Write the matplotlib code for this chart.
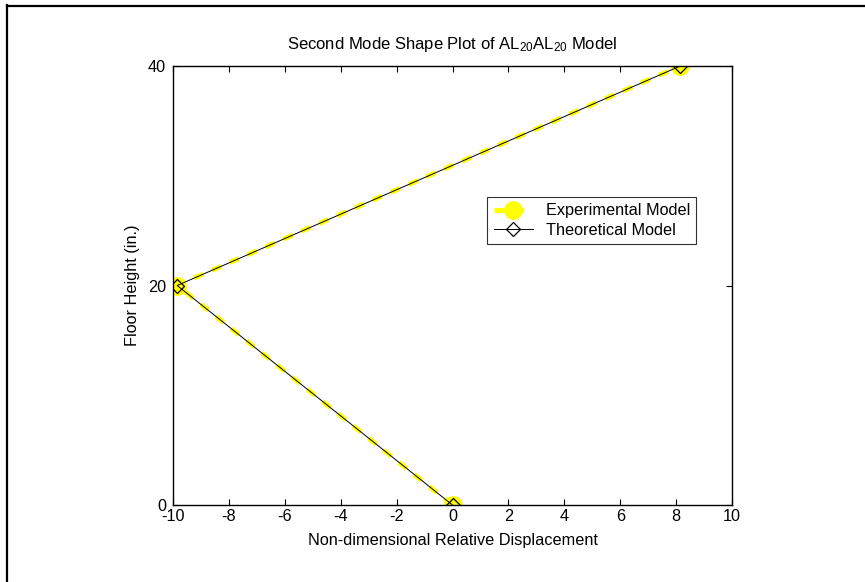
import numpy as np
import matplotlib.pyplot as plt
from matplotlib.lines import Line2D

plt.rcParams['font.family'] = ['Liberation Sans', 'DejaVu Sans']
plt.rcParams['mathtext.fontset'] = 'custom'
plt.rcParams['mathtext.rm'] = 'Liberation Sans'
plt.rcParams['mathtext.it'] = 'Liberation Sans'
plt.rcParams['axes.unicode_minus'] = False

# mode shape data (floor height vs displacement)
floor_height = [0, 20, 40]
exp_disp = [0, -9.85, 8.15]
theo_disp = [0, -9.85, 8.15]

x_ticks = list(range(-10, 11, 2))
y_ticks = [0, 20, 40]

fs = 11.7

fig = plt.figure(figsize=(8.65, 5.82), dpi=100)
ax = fig.add_axes([173 / 865, 77 / 582, 559 / 865, 439 / 582])

ax.plot(exp_disp, floor_height, color='#ffff00', lw=3.6, dashes=(2.0, 1.9),
        marker='o', markersize=12.5, markerfacecolor='#ffff00',
        markeredgecolor='#ffff00', label='Experimental Model', zorder=2)
ax.plot(theo_disp, floor_height, color='black', lw=0.7, marker='D',
        markersize=7, markerfacecolor='none', markeredgecolor='black',
        markeredgewidth=0.9, label='Theoretical Model', zorder=3)

ax.set_xlim(-10, 10)
ax.set_ylim(0, 40)
ax.set_xticks(x_ticks)
ax.set_yticks(y_ticks)
ax.tick_params(direction='in', length=4, width=0.8, top=True, right=True,
               labelsize=fs, pad=3)
ax.tick_params(axis='y', pad=5)
for s in ax.spines.values():
    s.set_linewidth(1.0)

ax.set_xlabel('Non-dimensional Relative Displacement', fontsize=fs, labelpad=6)
ax.set_ylabel('Floor Height (in.)', fontsize=fs, labelpad=6)
ax.set_title('Second Mode Shape Plot of AL$_{20}$AL$_{20}$ Model',
             fontsize=12, pad=12)

leg = ax.legend(loc='upper left', bbox_to_anchor=(314 / 559, (505 - 197) / 439),
                fontsize=fs, frameon=True, fancybox=False, edgecolor='black',
                borderpad=0.4, labelspacing=0.25, handlelength=2.4,
                handletextpad=0.8, borderaxespad=0)
leg.get_frame().set_linewidth(0.8)

# outer frame border (cut off at right/bottom)
fig.add_artist(Line2D([7.5 / 865, 7.5 / 865], [0, 1 - 5 / 582], color='black',
                      lw=1.6, transform=fig.transFigure))
fig.add_artist(Line2D([6.7 / 865, 1], [1 - 6 / 582, 1 - 6 / 582], color='black',
                      lw=1.6, transform=fig.transFigure))

fig.savefig('out.png', dpi=100)
